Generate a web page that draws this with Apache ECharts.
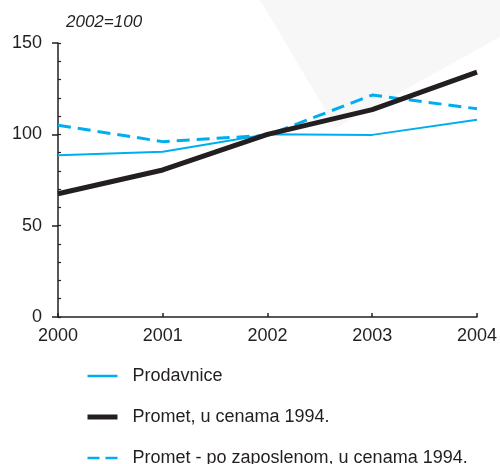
<!DOCTYPE html>
<html>
<head>
<meta charset="utf-8">
<script src="https://cdn.jsdelivr.net/npm/echarts@6/dist/echarts.min.js"></script>
<style>
  html, body { margin: 0; padding: 0; background: #fff; }
  #chart { width: 500px; height: 464px; }
</style>
</head>
<body>
<div id="chart"></div>
<script>
var years = ['2000', '2001', '2002', '2003', '2004'];
var prodavnice = [88.5, 90.5, 100, 99.7, 108];
var promet = [67.5, 80.5, 100, 113.5, 134];
var poZaposlenom = [105, 96, 99.5, 121.5, 114];
var seriesNames = ['Prodavnice', 'Promet, u cenama 1994.', 'Promet - po zaposlenom, u cenama 1994.'];
var yTicks = [0, 50, 100, 150];

var ink = '#231f20';
var blue = '#00aeef';
var font = 'Liberation Sans, Arial, sans-serif';

var chart = echarts.init(document.getElementById('chart'));

var option = {
  animation: false,
  graphic: [{
    type: 'polygon',
    z: -10,
    shape: { points: [[260, 0], [336, 128], [500, 37], [500, 0]] },
    style: { fill: '#f7f7f7' }
  }, {
    type: 'text',
    left: 66,
    top: 14,
    style: { text: '2002=100', font: 'italic 17px ' + font, fill: ink }
  }],
  grid: { left: 58, right: 20, top: 43, bottom: 147 },
  legend: {
    orient: 'vertical',
    left: 80,
    top: 362,
    height: 110,
    itemWidth: 30,
    itemHeight: 14,
    itemGap: 23,
    itemStyle: { opacity: 0 },
    data: [
      { name: seriesNames[0], lineStyle: { color: blue, width: 2.5 } },
      { name: seriesNames[1], lineStyle: { color: ink, width: 5 } },
      { name: seriesNames[2], lineStyle: { color: blue, width: 2.5, type: [12, 6] } }
    ],
    formatter: function (name) { return '  ' + name; },
    textStyle: { fontSize: 18, color: ink, fontFamily: font }
  },
  xAxis: {
    type: 'category',
    data: years,
    boundaryGap: false,
    axisLine: { lineStyle: { color: ink, width: 1.5 } },
    axisTick: { inside: true, length: 4, lineStyle: { color: ink, width: 1.5 } },
    axisLabel: { fontSize: 18, color: ink, fontFamily: font, margin: 10 }
  },
  yAxis: [{
    type: 'value',
    min: yTicks[0],
    max: yTicks[yTicks.length - 1],
    interval: 50,
    splitLine: { show: false },
    axisLine: { show: true, lineStyle: { color: ink, width: 1.5 } },
    axisTick: { show: true, length: 6, lineStyle: { color: ink, width: 1.5 } },
    axisLabel: { fontSize: 18, color: ink, fontFamily: font, margin: 16 }
  }, {
    type: 'value',
    position: 'left',
    min: 0,
    max: 150,
    interval: 10,
    splitLine: { show: false },
    axisLine: { show: false },
    axisTick: { show: true, inside: true, length: 3, lineStyle: { color: ink, width: 1.2 } },
    axisLabel: { show: false }
  }],
  series: [{
    name: seriesNames[0],
    type: 'line',
    data: prodavnice,
    symbol: 'none',
    z: 2,
    lineStyle: { color: blue, width: 2 },
    itemStyle: { color: blue }
  }, {
    name: seriesNames[1],
    type: 'line',
    data: promet,
    symbol: 'none',
    z: 4,
    lineStyle: { color: ink, width: 5 },
    itemStyle: { color: ink }
  }, {
    name: seriesNames[2],
    type: 'line',
    data: poZaposlenom,
    symbol: 'none',
    z: 3,
    lineStyle: { color: blue, width: 3, type: [13, 7] },
    itemStyle: { color: blue }
  }]
};

chart.setOption(option);
window.addEventListener('resize', function () {
  chart.resize();
});
</script>
</body>
</html>
